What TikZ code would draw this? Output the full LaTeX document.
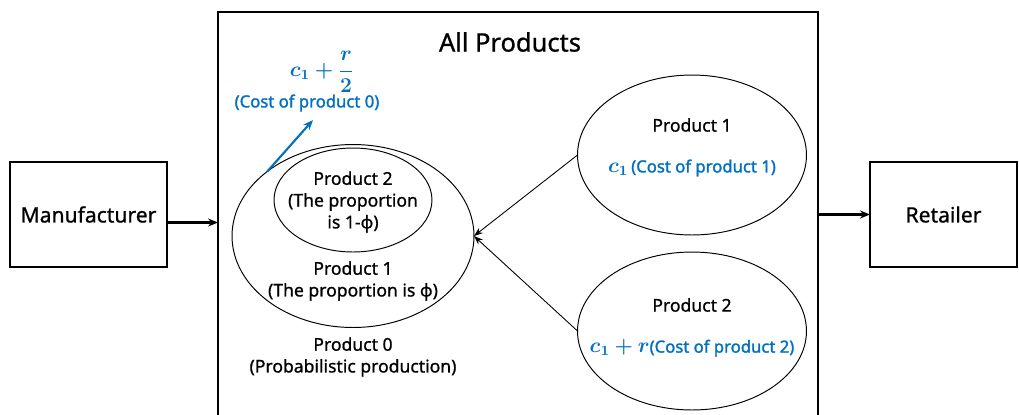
\documentclass[tikz,border=0pt]{standalone}
\usepackage{amsmath,bm}
\usepackage{fontspec}
\setmainfont{Noto Sans}
\newfontfamily\medfont{Noto Sans}[FakeBold=0.9]
\newfontfamily\costfont{Noto Sans}[FakeBold=1.6]
\usetikzlibrary{arrows.meta,positioning,calc,shapes.geometric}
\definecolor{costblue}{RGB}{0,112,192}
\newcommand{\costmath}[1]{{\fontsize{11.5}{12}\selectfont$\bm{#1}$}}

\begin{document}
\begin{tikzpicture}[x=0.02cm, y=-0.02cm,
    box/.style={draw, line width=0.8pt, minimum height=2.1cm, outer sep=0pt, font=\medfont\fontsize{12}{14}\selectfont},
    oval/.style={draw, ellipse, line width=0.55pt, inner sep=0pt, outer sep=0pt},
    arr/.style={-{Stealth[length=2mm,width=1.6mm]}, line width=1.2pt},
    thinarr/.style={-{Stealth[length=1.8mm,width=1.3mm]}, line width=0.5pt},
    lbl/.style={font=\medfont\fontsize{10}{12.4}\selectfont, align=center},
    cost/.style={text=costblue, font=\costfont\fontsize{9.5}{12}\selectfont, align=center},
]
\useasboundingbox (0,0) rectangle (1019,414);
\clip (0,0) rectangle (1019,414);

% Outer boxes
\node[box, minimum width=3.14cm] (manu) at (88.5,214.5) {Manufacturer};
\node[box, minimum width=2.94cm] (retail) at (943.5,214.5) {Retailer};
\node[draw, line width=1.2pt, minimum width=12cm, minimum height=8.4cm, outer sep=0pt] (allbox) at (518,222) {};
\node[font=\medfont\fontsize{14.5}{16}\selectfont] (title) at (510,42) {All Products};

% Product 0 (probabilistic production)
\node[oval, minimum width=4.84cm, minimum height=3.66cm] (prod0) at (353,236) {};
\node[oval, minimum width=3.16cm, minimum height=2.08cm] (inner2) at (353,200) {};
\node[lbl] (inner2txt) at (353,202) {Product 2\\(The proportion\\is 1-φ)};
\node[lbl] (inner1txt) at (353,281) {Product 1\\(The proportion is φ)};
\node[lbl] (prod0txt) at (353,357) {Product 0\\(Probabilistic production)};

% Cost of product 0
\node[cost] (costfrac) at (322,72) {\costmath{c_1+\dfrac{r}{2}}};
\node[cost] (costzero) at (307,103) {(Cost of product 0)};
\coordinate (costtip) at (313,120);
\draw[-{Stealth[length=2mm,width=1.6mm]}, costblue, line width=1.2pt] (prod0.143) -- (costtip);

% Deterministic products
\node[oval, minimum width=4.58cm, minimum height=3.2cm] (prod1) at (692,155) {};
\node[lbl] (prod1name) at (692,125) {Product 1};
\node[cost] (prod1cost) at (692,168) {\costmath{c_1}\,(Cost of product 1)};

\node[oval, minimum width=4.58cm, minimum height=3.16cm] (prod2) at (692,331) {};
\node[lbl] (prod2name) at (692,305) {Product 2};
\node[cost] (prod2cost) at (692,348) {\costmath{c_1+r}(Cost of product 2)};

% Arrows
\coordinate (manuout) at ($(manu.east)+(0,8)$);
\draw[arr] (manuout) -- (manuout -| allbox.west);
\draw[arr] (retail.west -| allbox.east) -- (retail.west);
\draw[thinarr] (prod1.west) -- (prod0.east);
\draw[thinarr] (prod2.west) -- (prod0.east);
\end{tikzpicture}
\end{document}
